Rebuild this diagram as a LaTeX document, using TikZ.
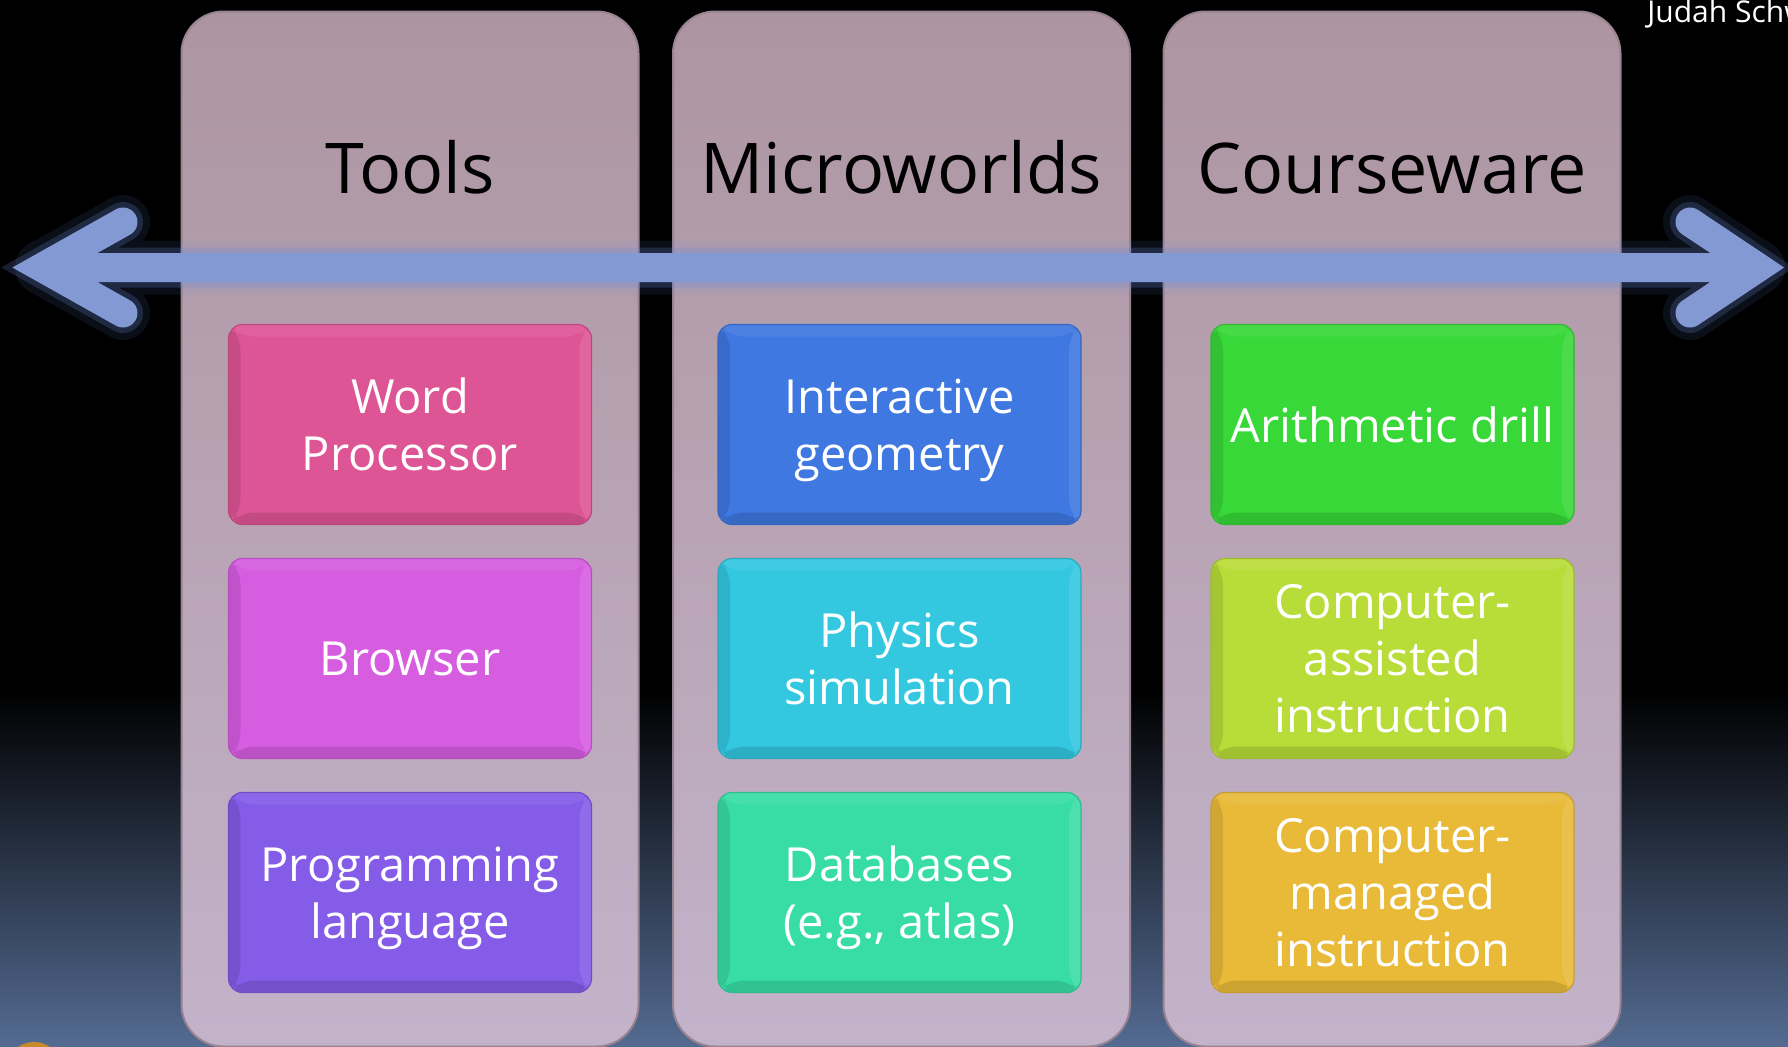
\documentclass[tikz,border=0pt]{standalone}
\usepackage{fontspec}
\setmainfont{Open Sans}
\definecolor{bgbot}{HTML}{546B92}
\definecolor{paneltop}{HTML}{AD95A0}
\definecolor{panelbot}{HTML}{C3B3CA}
\definecolor{paneledge}{HTML}{988391}
\definecolor{arrowc}{HTML}{8399D3}
\definecolor{glowc}{HTML}{6A8AE0}
\definecolor{pinkbox}{HTML}{DE5596}
\definecolor{magbox}{HTML}{D65DE0}
\definecolor{purpbox}{HTML}{855CE8}
\definecolor{bluebox}{HTML}{3F78E0}
\definecolor{cyanbox}{HTML}{33C8E0}
\definecolor{tealbox}{HTML}{38DDA6}
\definecolor{greenbox}{HTML}{38D838}
\definecolor{ygreenbox}{HTML}{B8DC38}
\definecolor{goldbox}{HTML}{E8BA38}
\definecolor{logoc}{HTML}{C88A2A}
\tikzset{
  panel/.style={rectangle, rounded corners=21pt, minimum width=228.5pt,
    minimum height=517.5pt, inner sep=0pt, top color=paneltop,
    bottom color=panelbot, draw=paneledge, line width=1pt},
  header/.style={anchor=base, text=black, font=\fontsize{35}{40}\selectfont},
  cbox/.style={rectangle, rounded corners=7pt, minimum width=181.5pt,
    minimum height=100pt, inner sep=0pt, fill=#1, draw=#1!85!black,
    line width=0.6pt, text=white, align=center, text depth=0pt,
    font=\fontsize{23.5}{28.5}\selectfont,
    path picture={
      \fill[black,opacity=0.10] (path picture bounding box.north west) -- (path picture bounding box.south west)
        -- ([shift={(6pt,6pt)}]path picture bounding box.south west) -- ([shift={(6pt,-6pt)}]path picture bounding box.north west) -- cycle;
      \fill[black,opacity=0.12] (path picture bounding box.south west) -- (path picture bounding box.south east)
        -- ([shift={(-6pt,6pt)}]path picture bounding box.south east) -- ([shift={(6pt,6pt)}]path picture bounding box.south west) -- cycle;
      \fill[white,opacity=0.07] (path picture bounding box.north west) -- (path picture bounding box.north east)
        -- ([shift={(-6pt,-6pt)}]path picture bounding box.north east) -- ([shift={(6pt,-6pt)}]path picture bounding box.north west) -- cycle;
      \fill[white,opacity=0.10] (path picture bounding box.north east) -- (path picture bounding box.south east)
        -- ([shift={(-6pt,6pt)}]path picture bounding box.south east) -- ([shift={(-6pt,-6pt)}]path picture bounding box.north east) -- cycle;
    }},
}
\begin{document}
\begin{tikzpicture}[x=0.5pt,y=-0.5pt]
\useasboundingbox (0,0) rectangle (1788,1046);
\begin{scope}
\clip (0,0) rectangle (1788,1046);
% background
\fill[black] (0,0) rectangle (1788,1046);
\shade[top color=black,bottom color=bgbot] (0,690) rectangle (1788,1047);
% partial logo bottom left
\fill[logoc] (34,1062) ellipse [x radius=24, y radius=20];
% panels
\node[panel] (ptools) at (410,529) {};
\node[panel] (pmicro) at (901.5,529) {};
\node[panel] (pcourse) at (1392,529) {};
% arrow coordinates
\coordinate (la1) at (123,222);
\coordinate (lv) at (42,267.5);
\coordinate (la2) at (123,313);
\coordinate (ra1) at (1690,222);
\coordinate (rv) at (1758,267.5);
\coordinate (ra2) at (1690,313);
\coordinate (ls) at (75,267.5);
\coordinate (rs) at (1725,267.5);
% glow
\draw[glowc,opacity=0.10,line width=27pt,line cap=round,line join=round]
  (la1) -- (lv) -- (la2) (ls) -- (rs) (ra1) -- (rv) -- (ra2);
\draw[glowc,opacity=0.22,line width=20pt,line cap=round,line join=miter]
  (la1) -- (lv) -- (la2) (ls) -- (rs) (ra1) -- (rv) -- (ra2);
% arrow body
\draw[arrowc,line width=14.5pt,line cap=round,line join=miter]
  (la1) -- (lv) -- (la2) (ls) -- (rs) (ra1) -- (rv) -- (ra2);
% headers
\node[header] (htools) at (410,193) {Tools};
\node[header] (hmicro) at (901.5,193) {Microworlds};
\node[header] (hcourse) at (1392,193) {Courseware};
% boxes
\node[cbox=pinkbox] (b11) at (410,424.5) {Word\\Processor};
\node[cbox=magbox] (b12) at (410,658.5) {Browser};
\node[cbox=purpbox] (b13) at (410,892.5) {Programming\\language};
\node[cbox=bluebox] (b21) at (899.5,424.5) {Interactive\\geometry};
\node[cbox=cyanbox] (b22) at (899.5,658.5) {Physics\\simulation};
\node[cbox=tealbox] (b23) at (899.5,892.5) {Databases\\(e.g., atlas)};
\node[cbox=greenbox] (b31) at (1392.5,424.5) {Arithmetic drill};
\node[cbox=ygreenbox] (b32) at (1392.5,658.5) {Computer-\\assisted\\instruction};
\node[cbox=goldbox] (b33) at (1392.5,892.5) {Computer-\\managed\\instruction};
% author (cut off at the right edge, as in the reference)
\node[anchor=base west, text=white, inner sep=0pt, font=\fontsize{15}{18}\selectfont] (author) at (1647,22) {Judah Schw};
\end{scope}
\end{tikzpicture}
\end{document}
